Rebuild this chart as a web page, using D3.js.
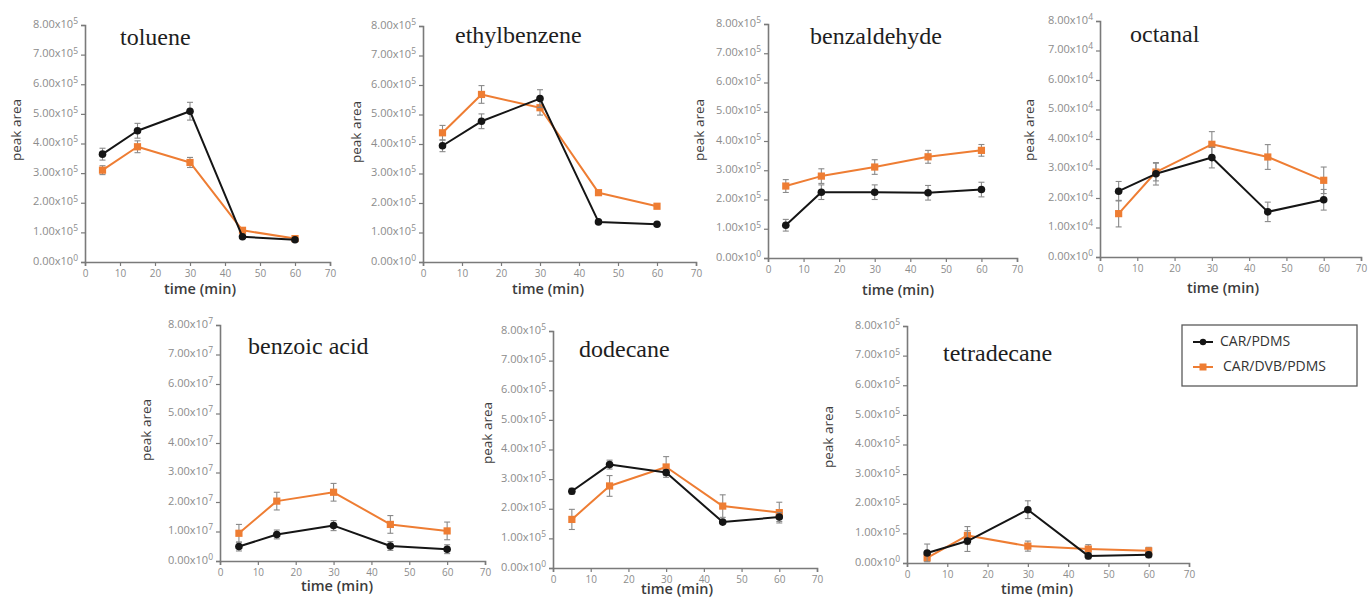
<!DOCTYPE html>
<html>
<head>
<meta charset="utf-8">
<script src="https://cdn.jsdelivr.net/npm/d3@7/dist/d3.min.js"></script>
<style>
  html, body { margin: 0; padding: 0; background: #fff; }
  svg { display: block; }
</style>
</head>
<body>
<svg id="chart" width="1369" height="598"></svg>
<script>
// Sampling times (min)
const times = [5, 15, 30, 45, 60];
const xTicks = [0, 10, 20, 30, 40, 50, 60, 70];

// Compounds and the power of ten used on each y axis
const compounds = ["toluene", "ethylbenzene", "benzaldehyde", "octanal", "benzoic acid", "dodecane", "tetradecane"];
const exponents = [5, 5, 5, 4, 7, 5, 5];
const yTickSteps = [0, 1, 2, 3, 4, 5, 6, 7, 8];

const seriesNames = ["CAR/PDMS", "CAR/DVB/PDMS"];

// Mean peak areas, CAR/PDMS fibre
const carPdms = [
  [3.64e5, 4.43e5, 5.09e5, 0.85e5, 0.75e5],
  [3.94e5, 4.77e5, 5.54e5, 1.36e5, 1.28e5],
  [1.12e5, 2.25e5, 2.25e5, 2.23e5, 2.34e5],
  [2.23e4, 2.82e4, 3.37e4, 1.53e4, 1.94e4],
  [0.49e7, 0.90e7, 1.20e7, 0.51e7, 0.40e7],
  [2.59e5, 3.49e5, 3.22e5, 1.55e5, 1.72e5],
  [0.34e5, 0.74e5, 1.80e5, 0.24e5, 0.28e5]
];
// Standard deviations, CAR/PDMS
const carPdmsErr = [
  [0.20e5, 0.25e5, 0.30e5, 0.05e5, 0.05e5],
  [0.20e5, 0.25e5, 0.30e5, 0.04e5, 0.04e5],
  [0.20e5, 0.25e5, 0.25e5, 0.25e5, 0.25e5],
  [0.33e4, 0.38e4, 0.35e4, 0.33e4, 0.35e4],
  [0.15e7, 0.15e7, 0.17e7, 0.15e7, 0.15e7],
  [0.10e5, 0.15e5, 0.10e5, 0.05e5, 0.15e5],
  [0.30e5, 0.35e5, 0.30e5, 0.10e5, 0.10e5]
];

// Mean peak areas, CAR/DVB/PDMS fibre
const carDvbPdms = [
  [3.10e5, 3.89e5, 3.36e5, 1.07e5, 0.79e5],
  [4.38e5, 5.68e5, 5.23e5, 2.35e5, 1.89e5],
  [2.46e5, 2.80e5, 3.11e5, 3.46e5, 3.68e5],
  [1.47e4, 2.88e4, 3.82e4, 3.39e4, 2.60e4],
  [0.94e7, 2.03e7, 2.33e7, 1.24e7, 1.02e7],
  [1.64e5, 2.77e5, 3.41e5, 2.09e5, 1.87e5],
  [0.17e5, 0.93e5, 0.57e5, 0.47e5, 0.41e5]
];
// Standard deviations, CAR/DVB/PDMS
const carDvbPdmsErr = [
  [0.15e5, 0.20e5, 0.17e5, 0.05e5, 0.03e5],
  [0.25e5, 0.30e5, 0.25e5, 0.05e5, 0.05e5],
  [0.22e5, 0.25e5, 0.25e5, 0.22e5, 0.20e5],
  [0.45e4, 0.30e4, 0.43e4, 0.42e4, 0.45e4],
  [0.30e7, 0.30e7, 0.30e7, 0.30e7, 0.30e7],
  [0.34e5, 0.35e5, 0.35e5, 0.38e5, 0.35e5],
  [0.10e5, 0.30e5, 0.17e5, 0.15e5, 0.12e5]
];

// Panel placement: plot box, title, axis titles
const layout = [
  { l: 85,   r: 330,  t: 25,  b: 262, tx: 120,  ty: 45,  px: 17,   py: 130, mx: 200,  my: 290 },
  { l: 423,  r: 696,  t: 26,  b: 262, tx: 455,  ty: 43,  px: 357,  py: 132, mx: 548,  my: 290 },
  { l: 768,  r: 1017, t: 24,  b: 258, tx: 810,  ty: 44,  px: 700,  py: 130, mx: 898,  my: 291 },
  { l: 1100, r: 1361, t: 21,  b: 257, tx: 1130, ty: 42,  px: 1030, py: 130, mx: 1223, my: 289 },
  { l: 220,  r: 485,  t: 325, b: 561, tx: 248,  ty: 354, px: 147,  py: 430, mx: 337,  my: 587 },
  { l: 553,  r: 817,  t: 331, b: 568, tx: 579,  ty: 357, px: 488,  py: 433, mx: 677,  my: 590 },
  { l: 907,  r: 1189, t: 326, b: 563, tx: 943,  ty: 361, px: 829,  py: 437, mx: 1037, my: 590 }
];

const colors = { black: "#151515", orange: "#EE7D33", axis: "#7a7a7a", tick: "#8c8c8c", err: "#8a8a8a" };
const sansFont = "'Open Sans', 'Liberation Sans', sans-serif";

const svg = d3.select("#chart");

compounds.forEach((name, i) => {
  const L = layout[i];
  const exp = exponents[i];
  const unit = Math.pow(10, exp);
  const x = d3.scaleLinear().domain([0, 70]).range([L.l, L.r]);
  const y = d3.scaleLinear().domain([0, 8 * unit]).range([L.b, L.t]);
  const g = svg.append("g");

  // x axis
  const xAxis = d3.axisBottom(x).tickValues(xTicks).tickSize(4).tickPadding(4).tickFormat(d3.format("d"));
  const xa = g.append("g").attr("transform", `translate(0,${L.b})`).call(xAxis);
  xa.select(".domain").attr("stroke", colors.axis).attr("stroke-width", 1.6);
  xa.selectAll(".tick line").attr("stroke", colors.axis).attr("stroke-width", 1.2);
  xa.selectAll(".tick text").attr("fill", colors.tick).attr("font-size", 10).attr("font-family", sansFont);

  // y axis with "k.00x10^n" labels
  const yAxis = d3.axisLeft(y).tickValues(yTickSteps.map(k => k * unit)).tickSize(4).tickPadding(3).tickFormat(() => "");
  const ya = g.append("g").attr("transform", `translate(${L.l},0)`).call(yAxis);
  ya.select(".domain").attr("stroke", colors.axis).attr("stroke-width", 1.6);
  ya.selectAll(".tick line").attr("stroke", colors.axis).attr("stroke-width", 1.2);
  ya.selectAll(".tick text").each(function (d) {
    const k = d / unit;
    const t = d3.select(this)
      .attr("fill", colors.tick).attr("font-size", 11).attr("font-family", sansFont)
      .attr("dy", "0.2em");
    t.text(null);
    t.append("tspan").text(k.toFixed(2) + "x10");
    t.append("tspan").attr("dy", "-0.45em").attr("font-size", 8.5).text(k === 0 ? "0" : String(exp));
  });

  // axis titles
  g.append("text")
    .attr("transform", `translate(${L.px},${L.py}) rotate(-90)`)
    .attr("text-anchor", "middle").attr("dominant-baseline", "middle")
    .attr("font-family", sansFont).attr("font-size", 13.5).attr("fill", "#3c3c3c")
    .text("peak area");
  g.append("text")
    .attr("x", L.mx).attr("y", L.my)
    .attr("text-anchor", "middle").attr("dominant-baseline", "middle")
    .attr("font-family", sansFont).attr("font-size", 14.5).attr("font-weight", 600).attr("fill", "#3c3c3c")
    .text("time (min)");

  // compound title
  g.append("text")
    .attr("x", L.tx).attr("y", L.ty)
    .attr("font-family", "'Liberation Serif', 'DejaVu Serif', serif")
    .attr("font-size", 24).attr("fill", "#1e1e1e")
    .text(name);

  const line = d3.line().x((d, j) => x(times[j])).y(d => y(d));

  const drawSeries = (vals, errs, color, marker) => {
    const pts = vals.map((v, j) => ({ t: times[j], v, e: errs[j] }));
    // error bars
    const eb = g.append("g").attr("stroke", colors.err).attr("stroke-width", 1.1).attr("fill", "none");
    pts.forEach(p => {
      eb.append("line").attr("x1", x(p.t)).attr("x2", x(p.t)).attr("y1", y(p.v - p.e)).attr("y2", y(p.v + p.e));
      eb.append("line").attr("x1", x(p.t) - 3).attr("x2", x(p.t) + 3).attr("y1", y(p.v - p.e)).attr("y2", y(p.v - p.e));
      eb.append("line").attr("x1", x(p.t) - 3).attr("x2", x(p.t) + 3).attr("y1", y(p.v + p.e)).attr("y2", y(p.v + p.e));
    });
    g.append("path").datum(vals).attr("d", line)
      .attr("fill", "none").attr("stroke", color).attr("stroke-width", 2).attr("stroke-linejoin", "round");
    if (marker === "circle") {
      g.selectAll(null).data(pts).enter().append("circle")
        .attr("cx", p => x(p.t)).attr("cy", p => y(p.v)).attr("r", 3.8).attr("fill", color);
    } else {
      g.selectAll(null).data(pts).enter().append("rect")
        .attr("x", p => x(p.t) - 3.6).attr("y", p => y(p.v) - 3.6)
        .attr("width", 7.2).attr("height", 7.2).attr("fill", color);
    }
  };

  drawSeries(carDvbPdms[i], carDvbPdmsErr[i], colors.orange, "square");
  drawSeries(carPdms[i], carPdmsErr[i], colors.black, "circle");
});

// legend
const lg = svg.append("g");
lg.append("rect").attr("x", 1182).attr("y", 325).attr("width", 175).attr("height", 61)
  .attr("fill", "#fff").attr("stroke", "#5a5a5a").attr("stroke-width", 1.3);
const legendItems = [
  { name: seriesNames[0], color: colors.black, marker: "circle", y: 342, tx: 1220 },
  { name: seriesNames[1], color: colors.orange, marker: "square", y: 367, tx: 1223 }
];
legendItems.forEach(it => {
  lg.append("line").attr("x1", 1193).attr("x2", 1213).attr("y1", it.y).attr("y2", it.y)
    .attr("stroke", it.color).attr("stroke-width", 2);
  if (it.marker === "circle") {
    lg.append("circle").attr("cx", 1203).attr("cy", it.y).attr("r", 3.2).attr("fill", it.color);
  } else {
    lg.append("rect").attr("x", 1199.5).attr("y", it.y - 3.5).attr("width", 7).attr("height", 7).attr("fill", it.color);
  }
  lg.append("text").attr("x", it.tx).attr("y", it.y).attr("dominant-baseline", "middle")
    .attr("font-family", sansFont).attr("font-size", 14).attr("fill", "#333")
    .text(it.name);
});
</script>
</body>
</html>
